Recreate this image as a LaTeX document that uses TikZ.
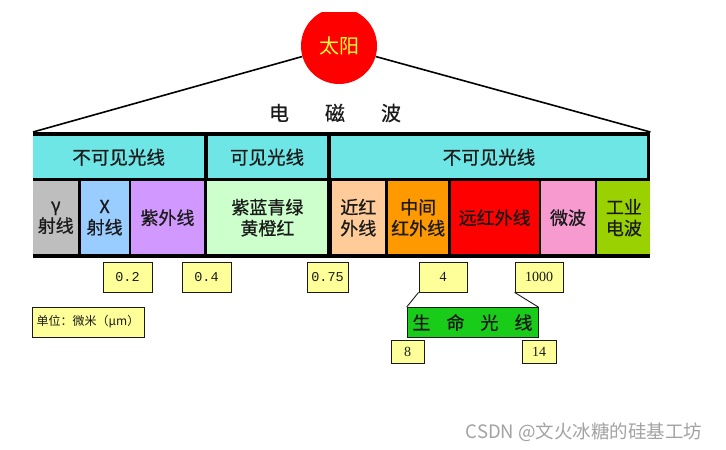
\documentclass[tikz,border=0pt]{standalone}
\usepackage{fontspec}
\setmainfont{Noto Sans CJK SC}
\newfontfamily\cellfont{Noto Sans CJK SC}[FakeBold=0.7]
\newfontfamily\numfont{Liberation Serif}
\newfontfamily\tickfont{Liberation Mono}
\usepackage{tikz}
\usetikzlibrary{positioning,shapes.geometric}
\definecolor{sunred}{HTML}{FF0000}
\definecolor{sunyellow}{HTML}{FFFF33}
\definecolor{skycyan}{HTML}{6EE6E6}
\definecolor{gammagray}{HTML}{BEBEBE}
\definecolor{xblue}{HTML}{99CCFF}
\definecolor{uvviolet}{HTML}{D199FF}
\definecolor{vislight}{HTML}{CCFFCC}
\definecolor{nirpeach}{HTML}{FFCC99}
\definecolor{mirorange}{HTML}{FF9900}
\definecolor{firred}{HTML}{FF0000}
\definecolor{mwpink}{HTML}{F79ACF}
\definecolor{indgreen}{HTML}{99D200}
\definecolor{lifegreen}{HTML}{19CC19}
\definecolor{paleyellow}{HTML}{FFFF99}
\definecolor{ink}{HTML}{1A1A1A}
\definecolor{bk50}{HTML}{A2A2A2}
\tikzset{
  sunnode/.style={
    circle, fill=sunred, minimum size=76pt, inner sep=0pt,
    text=sunyellow, font=\fontsize{20}{20}\selectfont
  },
  bandframe/.style={
    rectangle, fill=black, inner sep=0pt, anchor=north west
  },
  headcell/.style={
    rectangle, fill=#1, minimum height=42pt, inner sep=0pt,
    text=ink, font=\cellfont\fontsize{18.5}{20}\selectfont, align=center
  },
  headcell/.default=skycyan,
  bandcell/.style={
    rectangle, fill=#1, minimum height=73pt, inner sep=0pt,
    text=ink, font=\cellfont\fontsize{18}{21}\selectfont, align=center
  },
  valbox/.style={
    rectangle, draw=ink, fill=paleyellow, line width=0.8pt,
    minimum height=30pt, inner sep=0pt, text=ink,
    font=\numfont\fontsize{14}{14}\selectfont
  },
  rayline/.style={line width=1.6pt, color=black},
  linkline/.style={line width=0.9pt, color=ink},
}

\begin{document}
\begin{tikzpicture}[x=1pt, y=-1pt, node distance=2pt]
  \useasboundingbox (0,0) rectangle (726,450);

  % ── Sun and rays ────────────────
  \begin{scope}
    \clip (0,12) rectangle (726,450);
    \node[sunnode] (sun) at (339,46) {太阳};
  \end{scope}
  \node[bandframe, minimum width=617pt, minimum height=126pt]
    (band) at (33,132) {};
  \draw[rayline] (sun.196) -- (band.north west);
  \draw[rayline] (sun.344) -- (band.north east);
  \node[font=\cellfont\fontsize{20}{20}\selectfont, text=ink] (emw)
    at (335,113) {电\hspace{36pt}磁\hspace{36pt}波};

  % ── Visible / invisible row ─────
  \node[headcell, anchor=north west, minimum width=171pt] (inv1)
    at (33,136) {不可见光线};
  \node[headcell, right=3pt of inv1, minimum width=119pt] (vis) {可见光线};
  \node[headcell, right=4pt of vis, minimum width=316pt] (inv2) {不可见光线};

  % ── Spectrum bands ──────────────
  \node[bandcell=gammagray, anchor=north west, minimum width=45pt] (gam)
    at (33,181) {γ\\射线};
  \node[bandcell=xblue, right=of gam, minimum width=48pt] (xray) {X\\射线};
  \node[bandcell=uvviolet, right=of xray, minimum width=73pt] (uv) {紫外线};
  \node[bandcell=vislight, right=3pt of uv, minimum width=120pt] (light)
    {紫蓝青绿\\黄橙红};
  \node[bandcell=nirpeach, right=4pt of light, minimum width=53pt] (nir)
    {近红\\外线};
  \node[bandcell=mirorange, right=3pt of nir, minimum width=60pt] (mir)
    {中间\\红外线};
  \node[bandcell=firred, right=of mir, minimum width=88pt] (fir) {远红外线};
  \node[bandcell=mwpink, right=of fir, minimum width=54pt] (mw) {微波};
  \node[bandcell=indgreen, right=of mw, minimum width=53pt] (ind)
    {工业\\电波};

  % ── Wavelength ticks ────────────
  \node[valbox, minimum width=49pt, font=\tickfont\fontsize{13.5}{13.5}\selectfont]
    (v02) at (127.5,277) {0.2};
  \node[valbox, minimum width=49pt, font=\tickfont\fontsize{13.5}{13.5}\selectfont]
    (v04) at (206.5,277) {0.4};
  \node[valbox, minimum width=41pt, font=\tickfont\fontsize{13.5}{13.5}\selectfont]
    (v075) at (327.5,277) {0.75};
  \node[valbox, minimum width=48pt] (v4) at (443,277) {4};
  \node[valbox, minimum width=48pt] (v1000) at (539,277) {1000};
  \node[valbox, minimum width=112pt, font=\fontsize{12}{12}\selectfont]
    (unit) at (88,322) {单位：微米（μm）};

  % ── Life rays ───────────────────
  \node[valbox, fill=lifegreen, minimum width=131pt,
    font=\cellfont\fontsize{18}{18}\selectfont] (life) at (472.5,322.5)
    {生\hspace{16pt}命\hspace{16pt}光\hspace{16pt}线};
  \draw[linkline] (v4.south west) -- (life.north west);
  \draw[linkline] (v1000.south west) -- (life.north east);
  \node[valbox, minimum width=33pt, minimum height=23pt] (v8)
    at (407.5,351.5) {8};
  \node[valbox, minimum width=34pt, minimum height=23pt] (v14)
    at (539,351.5) {14};

  \node[text=bk50, font=\fontsize{18.5}{18.5}\selectfont] (mark) at (584,432)
    {CSDN @文火冰糖的硅基工坊};
\end{tikzpicture}
\end{document}
